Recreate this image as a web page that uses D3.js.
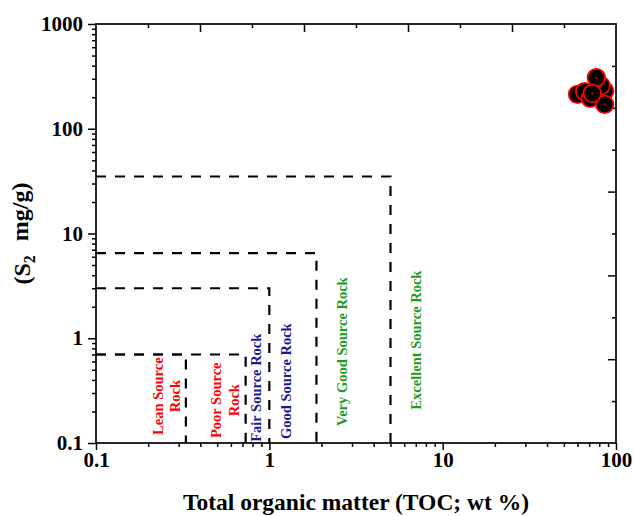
<!DOCTYPE html>
<html>
<head>
<meta charset="utf-8">
<script src="https://cdn.jsdelivr.net/npm/d3@7"></script>
<style>
  body { margin: 0; background: #fff; }
  text { font-family: "Liberation Serif", "Times New Roman", serif; font-weight: bold; }
</style>
</head>
<body>
<svg id="chart" width="633" height="516"></svg>
<script>
// sample data (TOC wt %, S2 mg/g)
const sampleTOC = [60, 66, 71, 86, 82, 77, 86, 73]
const sampleS2 = [213, 226, 195, 229, 258, 307, 171, 218]

// classification boxes: corner of each box
const boxTOC = [0.33, 0.73, 1, 1.87, 5]
const boxS2 = [0.7, 0.7, 3, 6.5, 35]

// zone labels
const zoneNames = [["Lean Source", "Rock"], ["Poor Source", "Rock"], ["Fair Source Rock"], ["Good Source Rock"], ["Very Good Source Rock"], ["Excellent Source Rock"]]
const zoneColors = ["#ff0000", "#ff0000", "#1a1a8f", "#1a1a8f", "#1f9b1f", "#1f9b1f"]
const zoneTOC = [0.254, 0.555, 0.835, 1.243, 2.62, 7.0]
const zoneS2 = [0.28, 0.256, 0.337, 0.389, 0.745, 0.96]

// ticks
const xMajor = [0.1, 1, 10, 100]
const yMajor = [0.1, 1, 10, 100, 1000]
const mult = [2, 3, 4, 5, 6, 7, 8, 9]
const xMinor = [0.1, 1, 10].flatMap(d => mult.map(m => d * m))
const yMinor = [0.1, 1, 10, 100].flatMap(d => mult.map(m => d * m))
const frameMajor = [2, 4, 6, 8]
const frameMinor = [1, 3, 5, 7, 9]

const svg = d3.select("#chart")
const margin = { top: 24, right: 17, bottom: 73, left: 96 }
const width = +svg.attr("width") - margin.left - margin.right
const height = +svg.attr("height") - margin.top - margin.bottom
const g = svg.append("g").attr("transform", "translate(" + margin.left + "," + margin.top + ")")

const x = d3.scaleLog().domain([0.1, 100]).range([0, width])
const y = d3.scaleLog().domain([0.1, 1000]).range([height, 0])
const xTop = d3.scaleLinear().domain([0, 10]).range([0, width])
const yRight = d3.scaleLinear().domain([0, 10]).range([height, 0])

const fmt = d => String(d)

// minor ticks first
g.append("g").attr("class", "axis")
    .call(d3.axisLeft(y).tickValues(yMinor).tickSize(4).tickFormat(""))
g.append("g").attr("class", "axis")
    .attr("transform", "translate(0," + height + ")")
    .call(d3.axisBottom(x).tickValues(xMinor).tickSize(4).tickFormat(""))
g.append("g").attr("class", "axis")
    .call(d3.axisLeft(y).tickValues(yMajor).tickSize(8).tickPadding(5).tickFormat(fmt))
g.append("g").attr("class", "axis")
    .attr("transform", "translate(0," + height + ")")
    .call(d3.axisBottom(x).tickValues(xMajor).tickSize(7).tickPadding(2).tickFormat(fmt))

// top and right (inward ticks)
g.append("g").attr("class", "axis")
    .call(d3.axisBottom(xTop).tickValues(frameMinor).tickSize(4).tickFormat(""))
g.append("g").attr("class", "axis")
    .call(d3.axisBottom(xTop).tickValues(frameMajor).tickSize(8).tickFormat(""))
g.append("g").attr("class", "axis")
    .attr("transform", "translate(" + width + ",0)")
    .call(d3.axisLeft(yRight).tickValues(frameMinor).tickSize(4).tickFormat(""))
g.append("g").attr("class", "axis")
    .attr("transform", "translate(" + width + ",0)")
    .call(d3.axisLeft(yRight).tickValues(frameMajor).tickSize(8).tickFormat(""))

g.selectAll(".axis .domain").remove()
g.selectAll(".axis line").attr("stroke", "#000").attr("stroke-width", 1.5)
g.selectAll(".axis text").attr("fill", "#000").style("font-size", "21px")

g.append("rect")
    .attr("x", 0).attr("y", 0)
    .attr("width", width).attr("height", height)
    .attr("fill", "none")
    .attr("stroke", "#111")
    .attr("stroke-width", 1.8)

// dashed boxes
g.selectAll(".box")
    .data(boxTOC)
    .enter()
    .append("path")
    .attr("class", "box")
    .attr("d", (d, i) => "M" + x(0.1) + "," + y(boxS2[i]) + "H" + x(d) + "V" + y(0.1))
    .attr("fill", "none")
    .attr("stroke", "#000")
    .attr("stroke-width", 2.2)
    .attr("stroke-dasharray", "10,9")

// zone labels (vertical)
zoneNames.forEach((lines, i) => {
    const t = g.append("text")
        .attr("transform", "translate(" + x(zoneTOC[i]) + "," + y(zoneS2[i]) + ") rotate(-90)")
        .attr("text-anchor", "middle")
        .attr("fill", zoneColors[i])
        .style("font-size", "14.5px")
    const lh = 17.4
    lines.forEach((line, j) => {
        t.append("tspan")
            .attr("x", 0)
            .attr("y", (j - (lines.length - 1) / 2) * lh)
            .attr("dy", "0.35em")
            .text(line)
    })
})

// samples
const pts = g.selectAll(".pt")
    .data(sampleTOC.map((d, i) => [d, sampleS2[i]]))
    .enter()
    .append("g")
    .attr("transform", d => "translate(" + x(d[0]) + "," + y(d[1]) + ")")
pts.append("circle")
    .attr("r", 8.8)
    .attr("fill", "#000")
    .attr("stroke", "#ff0000")
    .attr("stroke-width", 1.8)
pts.append("circle")
    .attr("r", 1)
    .attr("fill", "#ff0000")

// axis titles
svg.append("text")
    .attr("x", margin.left + width / 2)
    .attr("y", 510)
    .attr("text-anchor", "middle")
    .style("font-size", "23.5px")
    .text("Total organic matter (TOC; wt %)")

const yt = svg.append("text")
    .attr("transform", "translate(30," + (margin.top + height / 2) + ") rotate(-90)")
    .attr("text-anchor", "middle")
    .style("font-size", "24px")
yt.append("tspan").text("(S")
yt.append("tspan").attr("dy", "0.3em").style("font-size", "16px").text("2")
yt.append("tspan").attr("dy", "-0.3em").attr("dx", 8).text(" mg/g)")
</script>
</body>
</html>
